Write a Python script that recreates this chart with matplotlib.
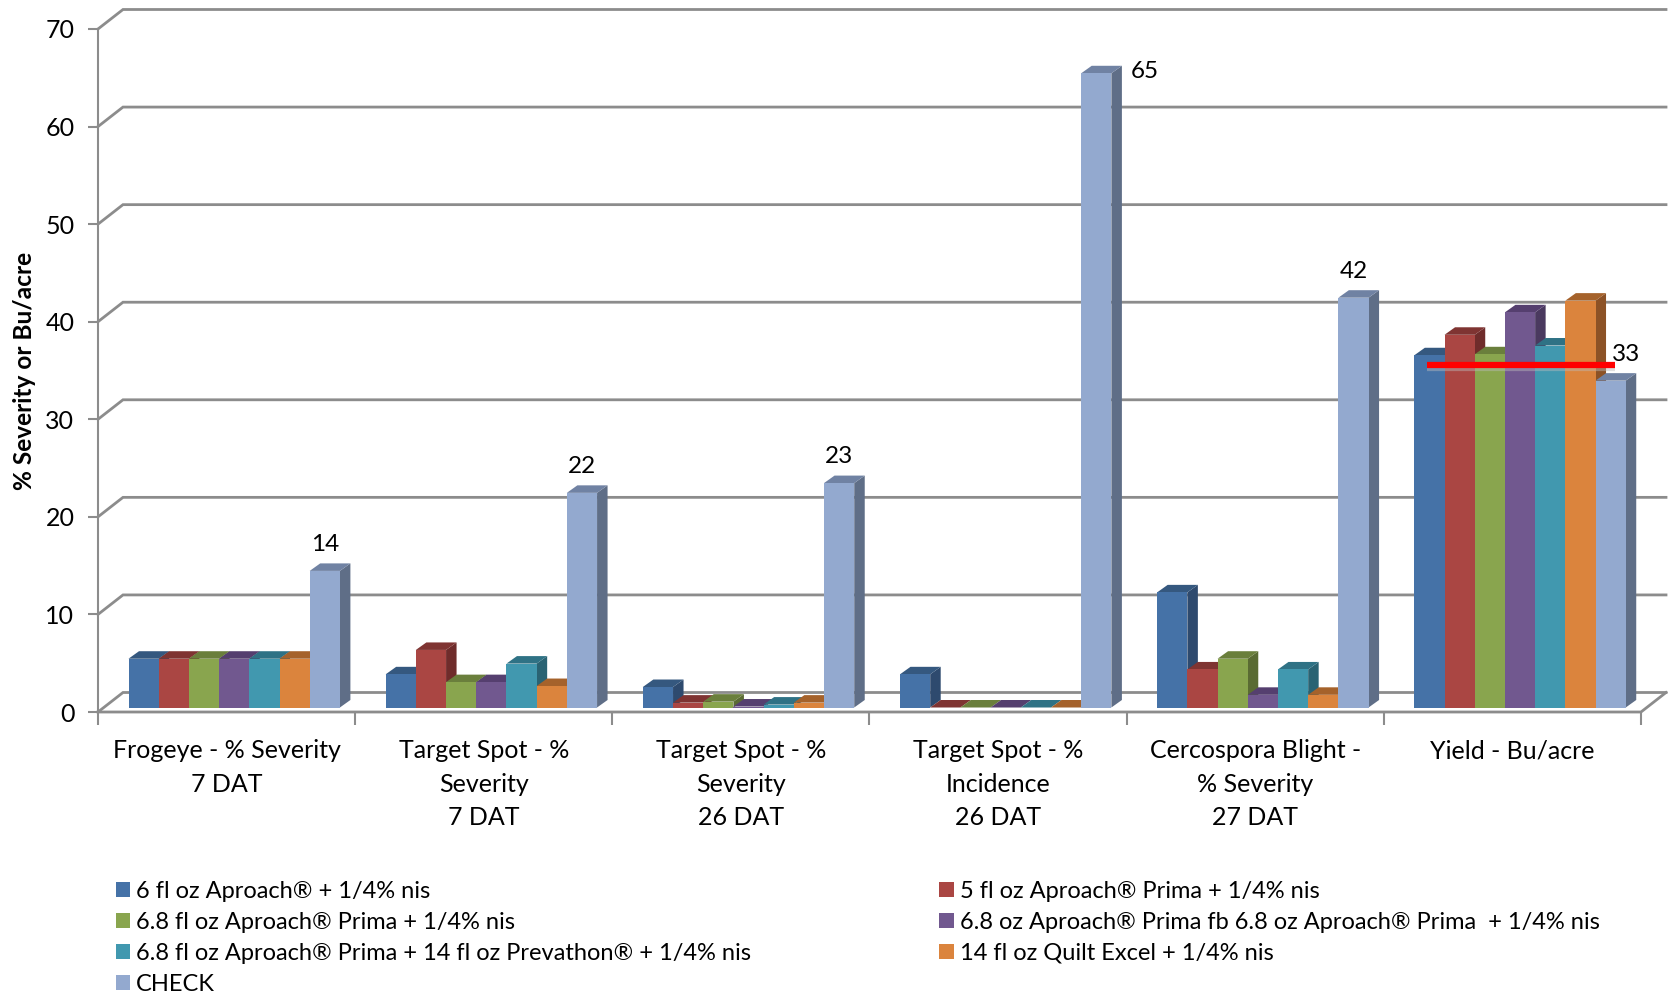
import matplotlib
matplotlib.use('Agg')
import matplotlib.pyplot as plt
from matplotlib.patches import Patch
import numpy as np

plt.rcParams['font.family'] = ['Lato', 'DejaVu Sans']

categories = ['Frogeye - % Severity\n7 DAT', 'Target Spot - %\nSeverity\n7 DAT',
              'Target Spot - %\nSeverity\n26 DAT', 'Target Spot - %\nIncidence\n26 DAT',
              'Cercospora Blight -\n% Severity\n27 DAT', 'Yield - Bu/acre']
series_names = ['6 fl oz Aproach® + 1/4% nis',
                '5 fl oz Aproach® Prima + 1/4% nis',
                '6.8 fl oz Aproach® Prima + 1/4% nis',
                '6.8 oz Aproach® Prima fb 6.8 oz Aproach® Prima  + 1/4% nis',
                '6.8 fl oz Aproach® Prima + 14 fl oz Prevathon® + 1/4% nis',
                '14 fl oz Quilt Excel + 1/4% nis',
                'CHECK']
aproach_6 = [5, 3.4, 2.1, 3.4, 11.8, 36.1]
aproach_prima_5 = [5, 5.9, 0.5, 0, 3.9, 38.2]
aproach_prima_68 = [5, 2.6, 0.6, 0, 5, 36.2]
aproach_prima_fb = [5, 2.6, 0.1, 0, 1.3, 40.5]
prima_prevathon = [5, 4.5, 0.3, 0, 3.9, 37.1]
quilt_excel = [5, 2.2, 0.5, 0, 1.3, 41.7]
check = [14, 22, 23, 65, 42, 33.5]
check_labels = ['14', '22', '23', '65', '42', '33']
yticks = [0, 10, 20, 30, 40, 50, 60, 70]
reference_line = 35.1

all_series = [aproach_6, aproach_prima_5, aproach_prima_68, aproach_prima_fb,
              prima_prevathon, quilt_excel, check]
front_colors = ['#4572A7', '#AA4643', '#89A54E', '#71588F', '#4198AF', '#DB843D', '#93A9CF']
top_colors = ['#35587F', '#7F3432', '#6A7F3C', '#553F6F', '#2F7285', '#A5622B', '#7082A3']
side_colors = ['#2E4A6E', '#6F2C2B', '#5A6B33', '#4A395F', '#2A6373', '#8C5226', '#5F6E87']
grid_color = '#8C8C8C'

W, H = 1673, 993
fig = plt.figure(figsize=(W / 100, H / 100), dpi=100, facecolor='white')
ax = fig.add_axes([98 / W, 1 - 712 / H, (1641 - 98) / W, (712 - 29) / H])
ax.set_xlim(0, 6)
ax.set_ylim(0, 70)
px_x = (1641 - 98) / 6   # pixels per category
px_y = (712 - 29) / 70   # pixels per value unit

# walls and gridlines of the fake 3d box
wall_dx = 25 / px_x
wall_dy = 19.5 / px_y
for v in yticks:
    ax.plot([0, wall_dx, 6 + wall_dx], [v, v + wall_dy, v + wall_dy], color=grid_color,
            lw=2, clip_on=False, zorder=1, solid_joinstyle='miter')
ax.plot([0, 6, 6 + wall_dx], [0, 0, wall_dy], color=grid_color, lw=2, clip_on=False, zorder=1)

# bars: front with ax.bar, side and top as polygons
bar_w = 30.2 / px_x
bar_off = 30.5 / px_x
bar_base = 4.5 / px_y
depth_x = 10.5 / px_x
depth_y = 7.5 / px_y
z = 2
for g in range(len(categories)):
    for s, vals in enumerate(all_series):
        x0 = g + bar_off + s * bar_w
        x1 = x0 + bar_w
        top = vals[g] + bar_base
        ax.fill([x1, x1 + depth_x, x1 + depth_x, x1],
                [bar_base, bar_base + depth_y, top + depth_y, top],
                color=side_colors[s], lw=0, zorder=z, clip_on=False)
        ax.fill([x0, x0 + depth_x, x1 + depth_x, x1],
                [top, top + depth_y, top + depth_y, top],
                color=top_colors[s], lw=0, zorder=z, clip_on=False)
        ax.bar(x0, vals[g], width=bar_w, bottom=bar_base, align='edge',
               color=front_colors[s], lw=0, zorder=z + 0.5)
        z += 1

# value labels on the CHECK bars
for g, (v, lab) in enumerate(zip(check, check_labels)):
    xc = g + bar_off + 6.5 * bar_w
    off = (0, 11.5)
    ha = 'center'
    if v == 65:
        xc = g + bar_off + 7 * bar_w
        off = (14, 1.5)
        ha = 'left'
    elif g == 5:
        off = (11, 11.5)
    ax.annotate(lab, (xc, v + bar_base), xytext=off, textcoords='offset points',
                ha=ha, va='bottom' if v != 65 else 'center', fontsize=17.5, color='black', zorder=z + 2)

# red line across the yield group, with a faint shadow
ax.plot([5.166, 5.90], [reference_line + bar_base - 0.35] * 2, color='#BBBBBB', lw=4.5,
        alpha=0.45, solid_capstyle='butt', zorder=z)
ax.plot([5.166, 5.90], [reference_line + bar_base] * 2, color='#FF0000', lw=4.5,
        solid_capstyle='butt', zorder=z + 1)

# axes, ticks, labels
for name in ['top', 'right', 'bottom']:
    ax.spines[name].set_visible(False)
ax.spines['left'].set_color(grid_color)
ax.spines['left'].set_linewidth(1.5)
ax.patch.set_alpha(0)
ax.set_yticks(yticks)
ax.tick_params(axis='y', length=7, width=1.5, color=grid_color, labelsize=18, pad=10)
ax.set_xticks(np.arange(7))
ax.set_xticklabels([])
ax.tick_params(axis='x', which='major', length=9, width=1.5, color=grid_color)
ax.set_xticks(np.arange(6) + 0.5, categories, minor=True)
ax.tick_params(axis='x', which='minor', length=0, labelsize=18, pad=19.5)
for t in ax.get_xticklabels(minor=True):
    t.set_linespacing(1.55)
    t.set_verticalalignment('top')
fig.text(25 / W, 1 - 371 / H, '% Severity or Bu/acre', rotation=90, fontsize=17.6,
         fontweight='bold', ha='center', va='center')

# legend reads row by row in the picture
order = [0, 2, 4, 6, 1, 3, 5]
handles = [Patch(facecolor=front_colors[i], label=series_names[i]) for i in order]
fig.legend(handles=handles, ncol=2, frameon=False, fontsize=17, loc='upper left',
           bbox_to_anchor=(115.5 / W, 1 - 880.5 / H), borderpad=0, borderaxespad=0,
           handlelength=0.6, handleheight=0.6, handletextpad=0.25,
           labelspacing=0.43, columnspacing=8)

fig.savefig('out.png', dpi=100, facecolor='white')
